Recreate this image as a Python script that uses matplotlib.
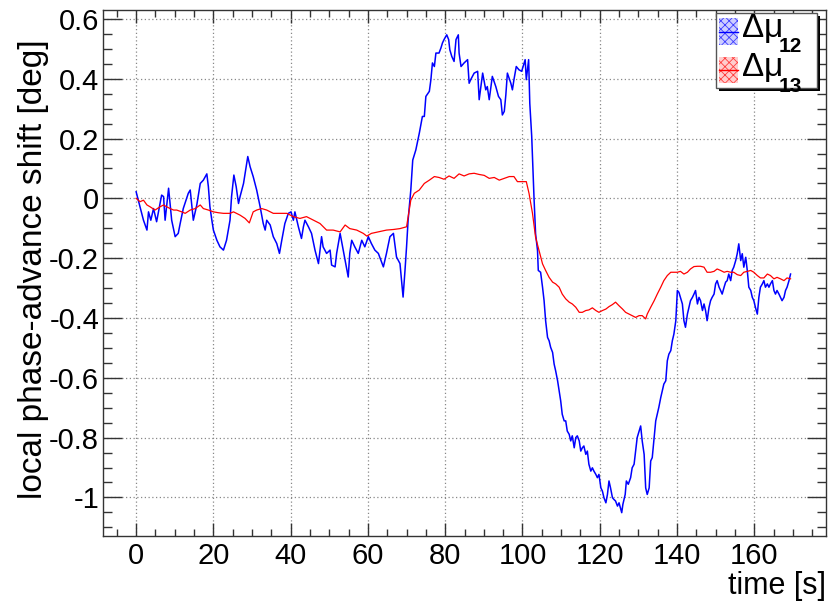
import matplotlib
matplotlib.use("Agg")
import matplotlib.pyplot as plt
from matplotlib.patches import Rectangle
from matplotlib.ticker import MultipleLocator

plt.rcParams['font.family'] = ['Liberation Sans', 'DejaVu Sans']
plt.rcParams['hatch.linewidth'] = 0.6

# ---------------- data ----------------
blue_t = [0.0, 1.9, 2.8, 3.2, 3.8, 4.5, 5.3, 6.6, 7.1, 7.5, 8.4, 9.2, 10.1, 10.9, 11.4, 12.2,
          13.5, 14.0, 14.8, 15.7, 16.6, 17.4, 18.3, 18.7, 19.1, 19.6, 20.0, 20.9, 21.7, 22.6,
          23.4, 24.3, 24.7, 25.3, 25.9, 26.5, 26.9, 27.8, 28.9, 29.5, 30.3, 31.2, 32.1, 32.9,
          33.4, 33.8, 34.7, 35.5, 36.4, 37.1, 37.7, 38.5, 39.4, 40.1, 40.7, 41.1, 42.0, 42.8,
          43.3, 43.7, 44.6, 45.4, 46.3, 47.2, 48.0, 48.4, 49.3, 50.2, 50.6, 51.5, 51.9, 52.8,
          53.6, 54.1, 54.9, 55.3, 55.8, 56.6, 57.5, 58.4, 59.2, 60.1, 60.9, 61.8, 62.7, 64.0,
          64.8, 65.7, 66.6, 67.4, 68.3, 69.1, 69.6, 70.0, 70.4,
          71.1, 71.6, 72.0, 72.4, 73.3, 74.1, 74.6, 75.0, 75.9, 76.3, 76.7, 77.2, 77.6, 78.4,
          78.9, 79.3, 79.7, 80.4, 80.9, 81.2, 81.7, 82.3, 82.8, 83.4, 83.6, 84.1, 84.9, 85.8,
          86.2, 86.6, 87.5, 88.4, 88.8, 89.7, 90.5, 90.9, 91.4, 92.2, 93.1, 93.8, 94.4, 94.8,
          95.3, 95.7, 96.1, 97.0, 97.4, 97.8, 98.4, 99.1, 99.8, 100.7, 101.0, 101.6, 101.9,
          102.4, 103.0,
          103.4, 103.9, 104.1, 104.7, 105.2, 105.6, 106.0, 106.5, 106.9, 107.3, 107.8, 108.2,
          108.6, 109.1, 109.5, 109.9, 110.3, 110.8, 111.2, 111.6, 112.1, 112.5, 112.9, 113.4,
          113.8, 114.2, 114.7, 115.1, 115.5, 115.9, 116.4, 116.8, 117.2, 117.7, 118.1, 118.5,
          119.0, 119.4, 119.8, 120.3, 120.7, 121.1, 121.6, 122.0, 122.4, 122.8, 123.3, 123.7,
          124.1, 124.6, 125.0, 125.7, 126.0, 126.6, 126.9, 127.4, 128.0, 128.4, 128.9, 129.3,
          129.7, 130.2, 130.6, 131.0, 131.5, 131.9, 132.3, 132.8, 133.2, 133.6, 134.1, 134.5,
          134.9, 135.3, 135.8, 136.2, 136.6, 137.1, 137.5, 137.9, 138.4, 138.8, 139.2, 139.7,
          140.1, 140.5, 140.9, 141.4, 141.8, 142.2, 142.7, 143.1, 143.5, 144.0, 144.4, 144.8,
          145.3, 145.7, 146.1, 146.6, 147.0, 147.4, 147.8, 148.3, 148.7, 149.1, 149.6, 150.0,
          150.4, 150.9, 151.3, 151.7, 152.2, 152.6, 153.0, 153.4, 153.9, 154.3, 154.7, 155.2,
          155.6, 156.0, 156.5, 156.9, 157.3, 157.8, 158.2, 158.6, 159.1, 159.5, 159.9, 160.3,
          160.8, 161.2, 161.6, 162.1, 162.5, 162.9, 163.4, 163.8, 164.2, 164.7, 165.1, 165.5,
          165.9, 166.4, 166.8, 167.2, 167.7, 168.1, 168.5, 169.0, 169.4]
blue_v = [0.022, -0.073, -0.106, -0.045, -0.073, -0.034, -0.078, 0.011, 0.006, -0.073, 0.034,
          -0.073, -0.128, -0.117, -0.084, -0.034, 0.017, 0.028, -0.073, -0.022, 0.050, 0.061,
          0.082, 0.039, -0.028, -0.073, -0.106, -0.140, -0.162, -0.173, -0.140, -0.073, 0.006,
          0.078, 0.039, -0.017, 0.006, 0.050, 0.140, 0.106, 0.073, 0.028, -0.028, -0.084,
          -0.106, -0.073, -0.089, -0.128, -0.151, -0.184, -0.140, -0.084, -0.050, -0.045,
          -0.073, -0.045, -0.095, -0.134, -0.095, -0.073, -0.095, -0.117, -0.173, -0.218,
          -0.128, -0.162, -0.184, -0.173, -0.223, -0.229, -0.184, -0.117, -0.173, -0.207,
          -0.263, -0.184, -0.140, -0.162, -0.184, -0.140, -0.162, -0.128, -0.151, -0.173,
          -0.184, -0.229, -0.184, -0.128, -0.117, -0.196, -0.218, -0.330, -0.240, -0.162,
          -0.073,
          0.028, 0.128, 0.145, 0.162, 0.218, 0.274, 0.274, 0.341, 0.358, 0.397, 0.453, 0.441,
          0.486, 0.486, 0.503, 0.520, 0.531, 0.547, 0.531, 0.497, 0.475, 0.458, 0.531, 0.547,
          0.486, 0.441, 0.453, 0.464, 0.385, 0.397, 0.419, 0.425, 0.330, 0.419, 0.363, 0.374,
          0.330, 0.408, 0.374, 0.341, 0.330, 0.279, 0.291, 0.346, 0.419, 0.385, 0.363, 0.397,
          0.441, 0.430, 0.425, 0.464, 0.397, 0.464, 0.318, 0.207, 0.000,
          -0.118, -0.174, -0.241, -0.247, -0.297, -0.342, -0.409, -0.465, -0.476, -0.498,
          -0.515, -0.554, -0.577, -0.610, -0.644, -0.677, -0.722, -0.744, -0.744, -0.778,
          -0.789, -0.811, -0.794, -0.834, -0.800, -0.794, -0.811, -0.845, -0.834, -0.828,
          -0.856, -0.845, -0.889, -0.912, -0.901, -0.912, -0.923, -0.934, -0.923, -0.968,
          -0.979, -1.001, -1.018, -0.990, -0.945, -0.968, -1.001, -1.007, -1.012, -1.029,
          -1.018, -1.051, -1.023, -0.990, -0.945, -0.956, -0.934, -0.901, -0.889, -0.845,
          -0.800, -0.778, -0.761, -0.811, -0.856, -0.968, -0.990, -0.968, -0.878, -0.867,
          -0.800, -0.744, -0.722, -0.699, -0.666, -0.644, -0.621, -0.610, -0.543, -0.521,
          -0.509, -0.476, -0.454, -0.409, -0.308, -0.314, -0.331, -0.353, -0.409, -0.431,
          -0.387, -0.364, -0.342, -0.331, -0.320, -0.308, -0.353, -0.331, -0.342, -0.375,
          -0.353, -0.375, -0.409, -0.364, -0.342, -0.331, -0.320, -0.286, -0.275, -0.297,
          -0.308, -0.320, -0.297, -0.280, -0.275, -0.253, -0.275, -0.241, -0.230, -0.208,
          -0.185, -0.152, -0.208, -0.185, -0.230, -0.197, -0.241, -0.297, -0.308, -0.331,
          -0.342, -0.364, -0.387, -0.331, -0.297, -0.286, -0.275, -0.297, -0.286, -0.297,
          -0.286, -0.275, -0.308, -0.320, -0.308, -0.320, -0.331, -0.342, -0.331, -0.308,
          -0.297, -0.275, -0.253]

red_t = [0.0, 1.0, 1.9, 2.8, 3.6, 4.9, 6.2, 7.1, 7.9, 8.8, 9.7, 10.5, 11.8, 12.7, 14.0, 15.3,
         16.6, 17.4, 18.7, 20.0, 21.3, 22.6, 24.3, 25.2, 26.9, 28.2, 29.3, 30.3, 31.2, 32.5,
         33.8, 35.5, 37.2, 39.0, 40.7, 42.4, 44.1, 45.9, 47.6, 49.3, 51.0, 52.8, 54.1, 55.3,
         57.1, 58.8, 59.7, 60.9, 62.7, 64.8, 66.6, 68.3, 70.0,
         71.1, 72.0, 73.3, 74.6, 75.9, 77.2, 78.4, 79.7, 81.0, 82.3, 83.6, 84.9, 86.2, 87.5,
         88.8, 90.1, 91.4, 92.7, 94.0, 95.3, 96.6, 97.8, 98.7, 100.0, 101.0, 101.7, 102.6,
         103.4, 104.3, 105.2, 106.0, 106.9, 107.8, 108.6, 109.5, 110.3, 111.2, 112.1, 112.9,
         113.8, 114.7, 115.5, 116.4, 117.2, 118.1, 119.0, 119.8, 120.7, 121.6, 122.4, 123.3,
         124.1, 125.0, 125.9, 126.7, 127.6, 128.4, 129.3, 130.2, 131.0, 131.9, 132.3, 133.2,
         134.1, 134.9, 135.8, 136.6, 137.5, 138.4, 139.2, 140.1, 140.9, 141.8, 142.7, 143.5,
         144.4, 145.3, 146.1, 147.0, 147.8, 148.7, 149.6, 150.4, 151.3, 152.2, 153.0, 153.9,
         154.7, 155.6, 156.5, 157.3, 158.2, 159.1, 159.9, 160.8, 161.6, 162.5, 163.4, 164.2,
         165.1, 165.9, 166.8, 167.7, 168.5, 169.4]
red_v = [0.0, -0.011, -0.006, -0.022, -0.028, -0.039, -0.028, -0.022, -0.028, -0.034, -0.039,
         -0.039, -0.045, -0.050, -0.039, -0.034, -0.022, -0.034, -0.039, -0.045, -0.048,
         -0.050, -0.050, -0.045, -0.056, -0.067, -0.082, -0.045, -0.039, -0.034, -0.039,
         -0.050, -0.050, -0.050, -0.061, -0.067, -0.061, -0.073, -0.084, -0.106, -0.106,
         -0.112, -0.089, -0.101, -0.106, -0.117, -0.126, -0.117, -0.112, -0.106, -0.104,
         -0.101, -0.095,
         -0.006, 0.017, 0.028, 0.050, 0.061, 0.073, 0.070, 0.064, 0.075, 0.067, 0.082, 0.075,
         0.082, 0.084, 0.080, 0.077, 0.067, 0.070, 0.061, 0.067, 0.073, 0.073, 0.056, 0.056,
         0.056, 0.017, -0.050,
         -0.130, -0.174, -0.219, -0.241, -0.264, -0.280, -0.286, -0.297, -0.320, -0.336,
         -0.347, -0.353, -0.364, -0.381, -0.381, -0.375, -0.373, -0.366, -0.375, -0.381,
         -0.375, -0.370, -0.362, -0.355, -0.347, -0.359, -0.370, -0.381, -0.387, -0.392,
         -0.398, -0.392, -0.392, -0.403, -0.387, -0.364, -0.342, -0.320, -0.297, -0.275,
         -0.258, -0.247, -0.247, -0.247, -0.244, -0.253, -0.247, -0.236, -0.228, -0.227,
         -0.227, -0.230, -0.247, -0.247, -0.244, -0.236, -0.241, -0.247, -0.244, -0.247,
         -0.247, -0.255, -0.258, -0.247, -0.244, -0.241, -0.247, -0.258, -0.266, -0.266,
         -0.253, -0.258, -0.269, -0.264, -0.269, -0.275, -0.266, -0.269]

x_ticks = [0, 20, 40, 60, 80, 100, 120, 140, 160]
y_ticks = [-1.0, -0.8, -0.6, -0.4, -0.2, 0.0, 0.2, 0.4, 0.6]
y_tick_labels = ['-1', '-0.8', '-0.6', '-0.4', '-0.2', '0', '0.2', '0.4', '0.6']
legend_labels = [(r'$\Delta\mu$', '12'), (r'$\Delta\mu$', '13')]
series_colors = ['#0000ff', '#ff0000']
legend_fill = ['#b8b8ff', '#ffb8b8']

# ---------------- figure ----------------
W, H = 840, 605
fig = plt.figure(figsize=(W / 100, H / 100), dpi=100)
plt.rcParams['mathtext.fontset'] = 'custom'
plt.rcParams['mathtext.rm'] = 'Liberation Sans'
plt.rcParams['mathtext.it'] = 'Liberation Sans'
plt.rcParams['mathtext.bf'] = 'Liberation Sans:bold'


def fx(px):
    return px / W


def fy(py):
    return 1 - py / H


L, R, T, B = 103.3, 825.7, 10.0, 536.0
ax = fig.add_axes([fx(L), fy(B), fx(R) - fx(L), fy(T) - fy(B)])

ax.plot(blue_t, blue_v, color=series_colors[0], lw=1.1, zorder=3)
ax.plot(red_t, red_v, color=series_colors[1], lw=0.9, zorder=4)

ax.set_xlim(-8.5, 178.5)
ax.set_ylim(-1.129, 0.630)
ax.set_xticks(x_ticks)
ax.set_xticklabels([str(v) for v in x_ticks])
ax.set_yticks(y_ticks)
ax.set_yticklabels(y_tick_labels)
ax.xaxis.set_minor_locator(MultipleLocator(5))
ax.yaxis.set_minor_locator(MultipleLocator(0.05))

ax.tick_params(axis='both', which='both', direction='in', top=True, right=True,
               color='#333333', width=1.0)
ax.tick_params(axis='x', which='major', length=9.5, labelsize=21, pad=4)
ax.tick_params(axis='x', which='minor', length=5)
ax.tick_params(axis='y', which='major', length=14, labelsize=21, pad=3)
ax.tick_params(axis='y', which='minor', length=6.5)

ax.grid(True, which='major', color='#888888', linestyle=(0, (1, 2)), linewidth=0.9)
ax.set_axisbelow(True)
for s in ax.spines.values():
    s.set_color('#333333')
    s.set_linewidth(1.0)

fig.text(fx(34), fy(269), 'local phase-advance shift [deg]', rotation=90,
         ha='center', va='center', fontsize=24)
fig.text(fx(826), fy(594), 'time [s]', ha='right', va='baseline', fontsize=22)

# ---------------- legend (ROOT style) ----------------
lx0, lx1, ly0, ly1 = 716, 817, 13, 88
fig.add_artist(Rectangle((fx(lx0 + 3), fy(ly1 + 3)), fx(lx1 - lx0), fy(ly0) - fy(ly1),
                         transform=fig.transFigure, facecolor='black', edgecolor='black',
                         lw=0, zorder=9))
fig.add_artist(Rectangle((fx(lx0), fy(ly1)), fx(lx1 - lx0), fy(ly0) - fy(ly1),
                         transform=fig.transFigure, facecolor='white', edgecolor='#555555',
                         lw=1.0, zorder=10))
rows = [(18, 45), (57, 83)]
for i, (top, bot) in enumerate(rows):
    fig.add_artist(Rectangle((fx(719), fy(bot)), fx(738 - 719), fy(top) - fy(bot),
                             transform=fig.transFigure, facecolor=legend_fill[i],
                             edgecolor=series_colors[i], hatch='xxxx', lw=0, alpha=0.7,
                             zorder=11))
    ymid = fy((top + bot) / 2)
    fig.add_artist(plt.Line2D([fx(719), fx(738)], [ymid, ymid], transform=fig.transFigure,
                              color=series_colors[i], lw=1.0, zorder=12))
    main, sub = legend_labels[i]
    fig.text(fx(741), fy(top + 19), main, fontsize=24, ha='left', va='baseline', zorder=12)
    fig.text(fx(779), fy(top + 34.5), sub, fontsize=15, fontweight='bold', ha='left',
             va='baseline', zorder=12)

fig.savefig('out.png', dpi=100)
